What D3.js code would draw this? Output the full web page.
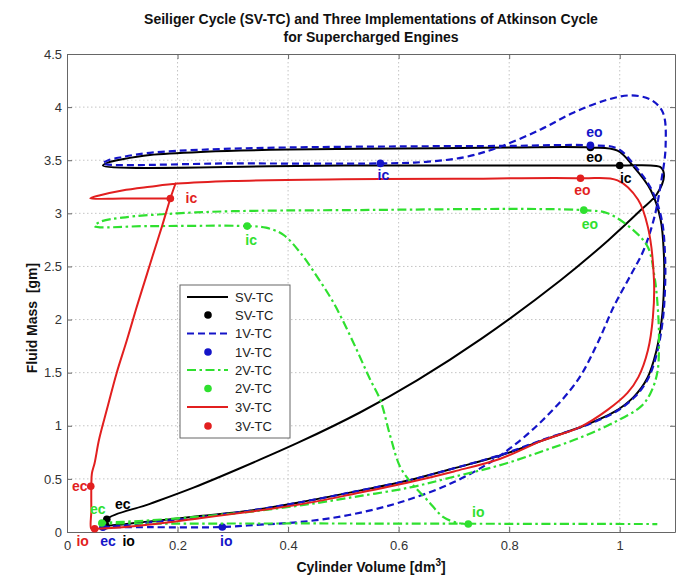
<!DOCTYPE html>
<html><head><meta charset="utf-8">
<script src="https://cdn.jsdelivr.net/npm/d3@7"></script>
<style>
body{margin:0;background:#fff;}
text{font-family:Arial,"Liberation Sans",Helvetica,sans-serif;}
</style>
</head><body>
<svg id="chart" width="686" height="580"></svg>
<script>
// ---------------- data ----------------
const titleLines = ["Seiliger Cycle (SV-TC) and Three Implementations of Atkinson Cycle", "for Supercharged Engines"];
const xTicks = [0, 0.2, 0.4, 0.6, 0.8, 1];
const xTickLabels = ["0", "0.2", "0.4", "0.6", "0.8", "1"];
const yTicks = [0, 0.5, 1, 1.5, 2, 2.5, 3, 3.5, 4, 4.5];
const yTickLabels = ["0", "0.5", "1", "1.5", "2", "2.5", "3", "3.5", "4", "4.5"];
const seriesNames = ["SV-TC", "1V-TC", "2V-TC", "3V-TC"];

// [cylinder volume dm^3, fluid mass gm]
const svTC = [[0.072,0.06],[0.072,0.12],[0.15,0.265],[0.23,0.42],[0.313,0.6],[0.422,0.85],[0.53,1.125],[0.634,1.43],[0.75,1.82],[0.893,2.37],[0.98,2.75],[1.04,3.04],[1.067,3.18],[1.08,3.35],[1.075,3.43],[1.056,3.45],[1.0,3.45],[0.5,3.45],[0.065,3.45],
  [0.075,3.48],[0.1,3.51],[0.15,3.55],[0.25,3.58],[0.4,3.6],[0.6,3.61],[0.8,3.62],[0.947,3.62],
  [0.996,3.59],[1.025,3.44],[1.056,3.22],[1.074,2.94],[1.08,2.6],[1.08,2.3],[1.076,2.0],[1.066,1.7],[1.05,1.45],[1.025,1.27],[0.99,1.13],[0.935,1.0],
  [0.87,0.88],[0.784,0.72],[0.7,0.6],[0.621,0.49],[0.52,0.38],[0.422,0.28],[0.33,0.2],[0.24,0.15],[0.15,0.1],[0.1,0.07],[0.072,0.06]];
const v1TC = [[0.065,0.045],[0.15,0.045],[0.281,0.047],[0.35,0.07],[0.422,0.094],[0.51,0.16],[0.603,0.28],[0.7,0.47],[0.784,0.72],[0.86,1.05],[0.924,1.43],[0.96,1.78],[0.989,2.12],[1.02,2.42],[1.043,2.65],[1.062,2.95],[1.075,3.3],[1.083,3.63],[1.078,3.95],[1.056,4.07],[1.02,4.11],[0.978,4.07],[0.917,3.95],[0.857,3.79],[0.78,3.62],[0.72,3.53],[0.65,3.485],[0.567,3.47],[0.3,3.47],[0.065,3.47],
  [0.075,3.5],[0.1,3.53],[0.15,3.57],[0.25,3.6],[0.4,3.62],[0.6,3.63],[0.8,3.635],[0.947,3.64],
  [0.996,3.61],[1.027,3.45],[1.058,3.22],[1.076,2.94],[1.082,2.6],[1.082,2.3],[1.078,2.0],[1.068,1.7],[1.052,1.45],[1.027,1.27],[0.992,1.13],[0.937,1.0],
  [0.87,0.885],[0.784,0.725],[0.7,0.6],[0.621,0.49],[0.52,0.38],[0.422,0.28],[0.33,0.2],[0.24,0.14],[0.15,0.09],[0.1,0.06],[0.065,0.045]];
const v2TC = [[0.726,0.075],[0.707,0.085],[0.681,0.14],[0.652,0.30],[0.625,0.45],[0.603,0.61],[0.585,0.9],[0.567,1.24],[0.549,1.43],[0.513,1.84],[0.482,2.16],[0.453,2.4],[0.422,2.63],[0.391,2.8],[0.36,2.865],[0.326,2.88],[0.15,2.88],[0.05,2.88],
  [0.06,2.92],[0.1,2.96],[0.2,3.0],[0.3,3.02],[0.5,3.03],[0.935,3.03],
  [0.978,3.0],[1.025,2.84],[1.051,2.68],[1.063,2.4],[1.069,2.1],[1.071,1.8],[1.068,1.5],[1.055,1.3],[1.038,1.18],[0.989,1.03],[0.929,0.89],
  [0.86,0.76],[0.784,0.63],[0.7,0.52],[0.621,0.42],[0.52,0.33],[0.422,0.25],[0.33,0.19],[0.25,0.15],[0.15,0.11],[0.1,0.095],[0.063,0.085],[0.5,0.08],[1.068,0.075]];
const v3TC = [[0.187,3.14],[0.1,3.14],[0.042,3.14],[0.06,3.17],[0.1,3.215],[0.15,3.25],[0.2,3.28],[0.3,3.305],[0.5,3.32],[0.7,3.325],[0.929,3.33],
  [0.996,3.31],[1.033,3.13],[1.051,2.87],[1.062,2.37],[1.06,2.02],[1.051,1.71],[1.034,1.46],[1.014,1.31],[0.978,1.15],[0.929,0.99],
  [0.86,0.86],[0.784,0.69],[0.7,0.57],[0.621,0.47],[0.52,0.36],[0.422,0.26],[0.33,0.19],[0.24,0.13],[0.15,0.07],[0.1,0.045],[0.07,0.035],[0.05,0.03],[0.044,0.03],
  [0.044,0.2],[0.044,0.43],[0.045,0.55],[0.05,0.65],[0.058,0.87],[0.072,1.15],[0.09,1.5],[0.108,1.8],[0.125,2.1],[0.14,2.35],[0.155,2.6],[0.172,2.88],[0.187,3.14],[0.197,3.29]];

// valve events: [label, volume, mass]
const svEvents = [["ec",0.072,0.12],["io",0.07,0.06],["ic",1.0,3.45],["eo",0.947,3.62]];
const v1Events = [["ec",0.065,0.045],["io",0.281,0.047],["ic",0.567,3.47],["eo",0.947,3.64]];
const v2Events = [["ec",0.063,0.085],["io",0.726,0.075],["ic",0.326,2.88],["eo",0.935,3.03]];
const v3Events = [["ec",0.043,0.43],["io",0.05,0.03],["ic",0.187,3.14],["eo",0.929,3.33]];

// ---------------- styles ----------------
const colors = ["#000000", "#1414c8", "#2fe02f", "#e21f1f"];
const dashes = [null, "7,4", "9,3.5,2.5,3.5", null];
const widths = [2, 2.2, 2.2, 2];
// label offsets in px relative to marker
const labelOffsets = [
  {ec:[16,-10], io:[23,20], ic:[6,17], eo:[4,15]},
  {ec:[5,19], io:[4,19], ic:[3,17], eo:[4,-8]},
  {ec:[-4,-9], io:[10,-7], ic:[4,19], eo:[6,19]},
  {ec:[-11,5], io:[-12,17], ic:[21,5], eo:[2,17]}
];

const L = 67, R = 675, T = 54, B = 532;
const svg = d3.select("#chart");
const x = d3.scaleLinear().domain([0, 1.1]).range([L, R]);
const y = d3.scaleLinear().domain([0, 4.5]).range([B, T]);

// title
svg.append("g").selectAll("text").data(titleLines).join("text")
  .attr("x", (L + R) / 2).attr("y", (d, i) => 24 + i * 18)
  .attr("text-anchor", "middle").attr("font-size", 14).attr("font-weight", "bold")
  .attr("fill", "#111").text(d => d);

// grid
const grid = svg.append("g").attr("stroke", "#c4c4c4").attr("stroke-width", 1).attr("stroke-dasharray", "1.5,2.5");
grid.selectAll(".gx").data(xTicks.filter(d => d > 0)).join("line")
  .attr("x1", d => x(d)).attr("x2", d => x(d)).attr("y1", T).attr("y2", B);
grid.selectAll(".gy").data(yTicks.filter(d => d > 0 && d < 4.5)).join("line")
  .attr("x1", L).attr("x2", R).attr("y1", d => y(d)).attr("y2", d => y(d));

// axes
function styleAxis(g) {
  g.select(".domain").attr("stroke", "#666");
  g.selectAll(".tick line").attr("stroke", "#666");
  g.selectAll(".tick text").attr("font-size", 13).attr("fill", "#333")
    .attr("font-family", "Arial, 'Liberation Sans', sans-serif");
}
svg.append("g").attr("transform", `translate(0,${B})`)
  .call(d3.axisBottom(x).tickValues(xTicks).tickFormat((d, i) => xTickLabels[i]).tickSizeInner(-5).tickSizeOuter(0).tickPadding(9))
  .call(styleAxis);
svg.append("g").attr("transform", `translate(0,${T})`)
  .call(d3.axisTop(x).tickValues(xTicks).tickFormat("").tickSizeInner(-5).tickSizeOuter(0))
  .call(styleAxis);
svg.append("g").attr("transform", `translate(${L},0)`)
  .call(d3.axisLeft(y).tickValues(yTicks).tickFormat((d, i) => yTickLabels[i]).tickSizeInner(-5).tickSizeOuter(0).tickPadding(5))
  .call(styleAxis);
svg.append("g").attr("transform", `translate(${R},0)`)
  .call(d3.axisRight(y).tickValues(yTicks).tickFormat("").tickSizeInner(-5).tickSizeOuter(0))
  .call(styleAxis);

// axis titles
const xl = svg.append("text").attr("x", (L + R) / 2).attr("y", 572).attr("text-anchor", "middle")
  .attr("font-size", 14).attr("font-weight", "bold").attr("fill", "#111");
xl.append("tspan").text("Cylinder Volume [dm");
xl.append("tspan").attr("font-size", 10).attr("dy", -6).text("3");
xl.append("tspan").attr("dy", 6).text("]");
svg.append("text").attr("transform", `translate(37,318) rotate(-90)`)
  .attr("text-anchor", "middle").attr("font-size", 14).attr("font-weight", "bold").attr("fill", "#111")
  .attr("xml:space", "preserve").text("Fluid Mass  [gm]");

// curves + markers (drawn per series, in order)
const line = d3.line().x(d => x(d[0])).y(d => y(d[1])).curve(d3.curveCatmullRom.alpha(0.5));
const allSeries = [svTC, v1TC, v2TC, v3TC];
const allEvents = [svEvents, v1Events, v2Events, v3Events];
const plot = svg.append("g");
allSeries.forEach((s, i) => {
  plot.append("path").datum(s).attr("d", line).attr("fill", "none")
    .attr("stroke", colors[i]).attr("stroke-width", widths[i])
    .attr("stroke-dasharray", dashes[i]).attr("stroke-linejoin", "round");
  const ev = allEvents[i];
  const g = plot.append("g");
  g.selectAll("circle").data(ev).join("circle")
    .attr("cx", d => x(d[1])).attr("cy", d => y(d[2])).attr("r", 3.8).attr("fill", colors[i]);
});
allEvents.forEach((ev, i) => {
  plot.append("g").selectAll("text").data(ev).join("text")
    .attr("x", d => x(d[1]) + labelOffsets[i][d[0]][0])
    .attr("y", d => y(d[2]) + labelOffsets[i][d[0]][1])
    .attr("text-anchor", "middle").attr("font-size", 14).attr("font-weight", "bold")
    .attr("fill", colors[i]).text(d => d[0]);
});

// legend
const lg = svg.append("g").attr("transform", "translate(180,285)");
lg.append("rect").attr("width", 110).attr("height", 153).attr("fill", "#fff").attr("stroke", "#666").attr("stroke-width", 1);
const rows = [];
seriesNames.forEach((n, i) => { rows.push({n, i, type: "line"}); rows.push({n, i, type: "dot"}); });
const rowY = [12, 30, 48.5, 67, 85, 103.5, 122, 141];
rows.forEach((r, k) => {
  const yy = rowY[k];
  if (r.type === "line") {
    lg.append("line").attr("x1", 7).attr("x2", 48).attr("y1", yy).attr("y2", yy)
      .attr("stroke", colors[r.i]).attr("stroke-width", widths[r.i]).attr("stroke-dasharray", dashes[r.i]);
  } else {
    lg.append("circle").attr("cx", 28).attr("cy", yy).attr("r", 3.8).attr("fill", colors[r.i]);
  }
  lg.append("text").attr("x", 55).attr("y", yy + 4.5).attr("font-size", 13).attr("fill", "#222").text(r.n);
});
</script>
</body></html>
